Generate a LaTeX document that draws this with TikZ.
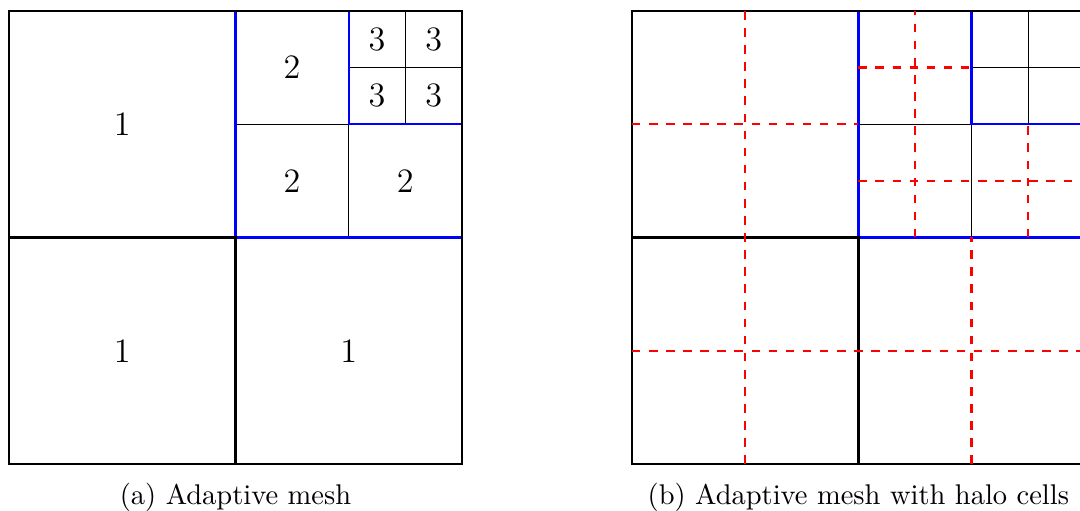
\documentclass[tikz,border=0pt]{standalone}
\usepackage{tikz}

\begin{document}
\begin{tikzpicture}[x=6.985mm,y=6.985mm, outer/.style={draw=black,thick}, fine/.style={draw=black,thin}, lvl/.style={draw=blue,thick}, halo/.style={draw=red,dashed,thick}, num/.style={font=\large}]
\useasboundingbox (-0.159,-0.830) rectangle (18.914,8.194);
% the same mesh twice, (a) at 0 and (b) at 11
\foreach \ox in {0,11} {
  \begin{scope}[xshift=\ox*6.985mm]
  \draw[fine] (4,6) -- (6,6) (6,4) -- (6,6);
  \draw[fine] (7,6) -- (7,8) (6,7) -- (8,7);
  \draw[lvl] (4,8) -- (4,4) -- (8,4);
  \draw[lvl] (6,8) -- (6,6) -- (8,6);
  \draw[outer] (0,4) -- (4,4) -- (4,0);
  \draw[outer] (0,0) rectangle (8,8);
  \end{scope}
}
% halo cells
\begin{scope}[xshift=11*6.985mm]
\draw[halo] (2,0) -- (2,8) (0,6) -- (4,6) (0,2) -- (8,2) (6,0) -- (6,4);
\draw[halo] (5,4) -- (5,8) (4,7) -- (6,7) (4,5) -- (8,5) (7,4) -- (7,6);
\end{scope}
% levels
\node[num] (l1a) at (2,6) {1};
\node[num] (l1b) at (2,2) {1};
\node[num] (l1c) at (6,2) {1};
\node[num] (l2a) at (5,7) {2};
\node[num] (l2b) at (5,5) {2};
\node[num] (l2c) at (7,5) {2};
\node[num] (l3a) at (6.5,7.5) {3};
\node[num] (l3b) at (7.5,7.5) {3};
\node[num] (l3c) at (6.5,6.5) {3};
\node[num] (l3d) at (7.5,6.5) {3};
\node (capa) at (4,-0.583) {(a) Adaptive mesh};
\node (capb) at (15,-0.583) {(b) Adaptive mesh with halo cells};
\end{tikzpicture}
\end{document}
